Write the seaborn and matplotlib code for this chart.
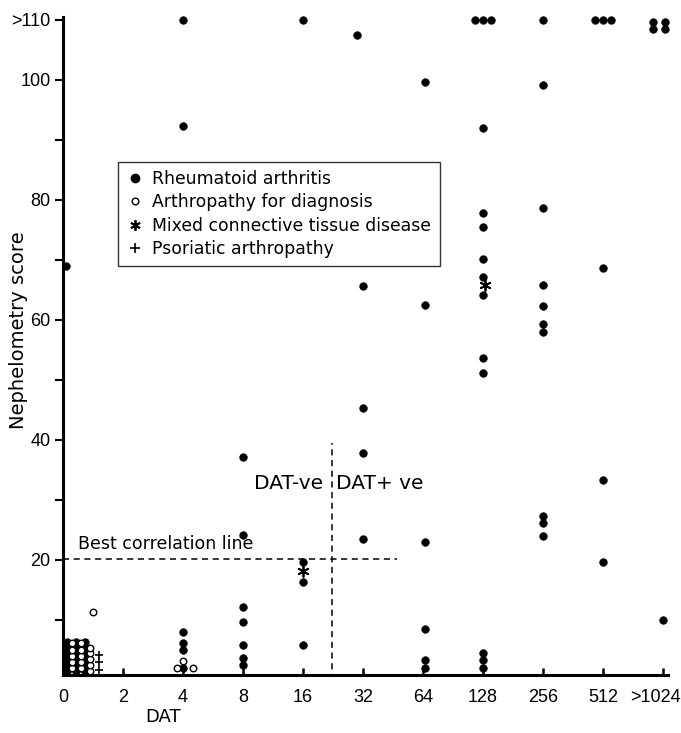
import matplotlib
matplotlib.use("Agg")
import matplotlib.pyplot as plt
import matplotlib.transforms as mtransforms
import seaborn as sns
import pandas as pd
from matplotlib.lines import Line2D

sns.set_style("ticks", {"axes.edgecolor": "black", "text.color": "black",
                        "axes.labelcolor": "black", "xtick.color": "black",
                        "ytick.color": "black"})
plt.rcParams['font.family'] = ['DejaVu Sans']

# DAT titre categories (x axis) and nephelometry ticks (y axis)
dat_labels = ["0", "2", "4", "8", "16", "32", "64", "128", "256", "512", ">1024"]
score_ticks = [20, 40, 60, 80, 100, 110]
score_tick_labels = ["20", "40", "60", "80", "100", ">110"]
score_minor = [10, 30, 50, 70, 90]

# Rheumatoid arthritis (filled dots): DAT category, score, small side-by-side nudge
ra_dat = (["0"] * 18 + ["0"]
          + ["4"] * 6
          + ["8"] * 7
          + ["16"] * 4
          + ["32"] * 5
          + ["64"] * 6
          + ["128"] * 14
          + ["256"] * 10
          + ["512"] * 6
          + [">1024"] * 5)
ra_score = ([1.5, 2.5, 3.5, 4.5, 5.5, 6.3] * 3 + [69]
            + [110, 92.3, 8.0, 6.1, 5.0, 1.9]
            + [37.2, 24.2, 12.1, 9.6, 5.8, 3.6, 2.4]
            + [110, 19.7, 16.3, 5.8]
            + [107.5, 65.7, 45.3, 37.8, 23.5]
            + [99.7, 62.5, 23.0, 8.5, 3.3, 2.0]
            + [110, 110, 110, 92.0, 77.8, 75.5, 70.2, 67.2, 64.2, 53.7, 51.1, 4.5, 3.3, 2.0]
            + [110, 99.2, 78.7, 65.8, 62.3, 59.3, 58.0, 27.3, 26.2, 24.0]
            + [110, 110, 110, 68.7, 33.3, 19.7]
            + [109.7, 109.7, 108.5, 108.5, 10.0])
ra_nudge = ([0.07] * 6 + [0.22] * 6 + [0.37] * 6 + [0.05]
            + [0] * 6
            + [0] * 7
            + [0] * 4
            + [-0.1, 0, 0, 0, 0]
            + [0.03] * 6
            + [-0.14, 0, 0.14] + [0] * 11
            + [0] * 10
            + [-0.13, 0, 0.13, 0, 0, 0]
            + [-0.17, 0.03, -0.17, 0.03, 0])

# Arthropathy for diagnosis (open circles)
ad_dat = ["0"] * 16 + ["4"] * 3
ad_score = ([2, 3, 4, 5, 6.2] * 2 + [1.5, 2.5, 3.5, 4.5, 5.3] + [11.3]
            + [3.2, 1.9, 1.9])
ad_nudge = ([0.15] * 5 + [0.30] * 5 + [0.45] * 5 + [0.5]
            + [0.0, -0.1, 0.17])

# Mixed connective tissue disease (asterisks)
mctd_dat = ["16", "128"]
mctd_score = [18.2, 65.8]
mctd_nudge = [0, 0.03]

# Psoriatic arthropathy (plus signs)
ps_dat = ["0", "0", "0"]
ps_score = [4.2, 2.9, 1.6]
ps_nudge = [0.6, 0.6, 0.6]


def to_frame(dat, score, nudge):
    pos = [dat_labels.index(d) + n for d, n in zip(dat, nudge)]
    return pd.DataFrame({"dat": pos, "score": score})


ra = to_frame(ra_dat, ra_score, ra_nudge)
ad = to_frame(ad_dat, ad_score, ad_nudge)
mctd = to_frame(mctd_dat, mctd_score, mctd_nudge)
ps = to_frame(ps_dat, ps_score, ps_nudge)

fig = plt.figure(figsize=(6.81, 7.33), dpi=100)
ax = fig.add_axes([0.0925, 0.079, 0.888, 0.898])

asterisk = (6, 2, 0)
sns.scatterplot(data=ra, x="dat", y="score", ax=ax, color="black", s=32,
                edgecolor="black", linewidth=0.3, clip_on=False, zorder=3)
sns.scatterplot(data=ad, x="dat", y="score", ax=ax, facecolor="white", s=22,
                edgecolor="black", linewidth=1.0, clip_on=False, zorder=4)
sns.scatterplot(data=mctd, x="dat", y="score", ax=ax, marker=asterisk, s=60,
                color="black", edgecolor="black", linewidth=1.3, zorder=4)
sns.scatterplot(data=ps, x="dat", y="score", ax=ax, marker="+", s=30,
                color="black", linewidth=1.2, zorder=4)

# cut-off lines
ax.hlines(20.2, 0, 5.57, colors="black", linestyles=(0, (4, 3)), linewidth=1.1)
ax.vlines(4.48, 0, 39.5, colors="black", linestyles=(0, (4, 3)), linewidth=1.1)
ax.text(0.25, 22.6, "Best correlation line", fontsize=12.5, va="center", ha="left")
ax.text(4.33, 32.8, "DAT-ve", fontsize=14.5, va="center", ha="right")
ax.text(4.55, 32.8, "DAT+ ve", fontsize=14.5, va="center", ha="left")

ax.set_xlim(0, 10.08)
ax.set_ylim(0.8, 110.5)
tick_font = ["Liberation Sans", "DejaVu Sans"]
ax.set_xticks(range(len(dat_labels)))
ax.set_xticklabels(dat_labels, fontsize=13, family=tick_font)
ax.set_yticks(score_ticks)
ax.set_yticklabels(score_tick_labels, fontsize=13, family=tick_font)
ax.set_yticks(score_minor, minor=True)
ax.tick_params(axis="y", which="both", direction="out", length=6, width=1.5, pad=3)
ax.tick_params(axis="x", direction="in", length=5, width=1.8, pad=10)
ax.xaxis.get_major_ticks()[0].tick1line.set_visible(False)
# nudge the last category label left so it stays on the canvas
last = ax.xaxis.get_major_ticks()[-1].label1
last.set_transform(last.get_transform()
                   + mtransforms.ScaledTranslation(-7 / 100, 0, fig.dpi_scale_trans))

ax.set_xlabel("DAT", fontsize=13)
ax.xaxis.set_label_coords(0.165, -0.05)
ax.set_ylabel("Nephelometry score", fontsize=14)
ax.yaxis.set_label_coords(-0.058, 0.524)

sns.despine(ax=ax)
for side in ["left", "bottom"]:
    ax.spines[side].set_linewidth(2.2)
    ax.spines[side].set_color("black")

handles = [
    Line2D([], [], linestyle="none", marker="o", markersize=6, color="black"),
    Line2D([], [], linestyle="none", marker="o", markersize=4.8, markerfacecolor="white",
           markeredgecolor="black", markeredgewidth=1.0),
    Line2D([], [], linestyle="none", marker=asterisk, markersize=7.5, color="black",
           markeredgewidth=1.3),
    Line2D([], [], linestyle="none", marker="+", markersize=6.5, color="black",
           markeredgewidth=1.2),
]
labels = ["Rheumatoid arthritis", "Arthropathy for diagnosis",
          "Mixed connective tissue disease", "Psoriatic arthropathy"]
leg = ax.legend(handles, labels, loc="upper left", bbox_to_anchor=(0.091, 0.78),
                borderaxespad=0, fontsize=12.4, frameon=True, fancybox=False,
                handlelength=1.0, handletextpad=0.5, labelspacing=0.3,
                borderpad=0.5)
leg.get_frame().set_edgecolor("black")
leg.get_frame().set_linewidth(1.0)
for t in leg.get_texts():
    t.set_color("black")

fig.savefig("out.png", dpi=100)
